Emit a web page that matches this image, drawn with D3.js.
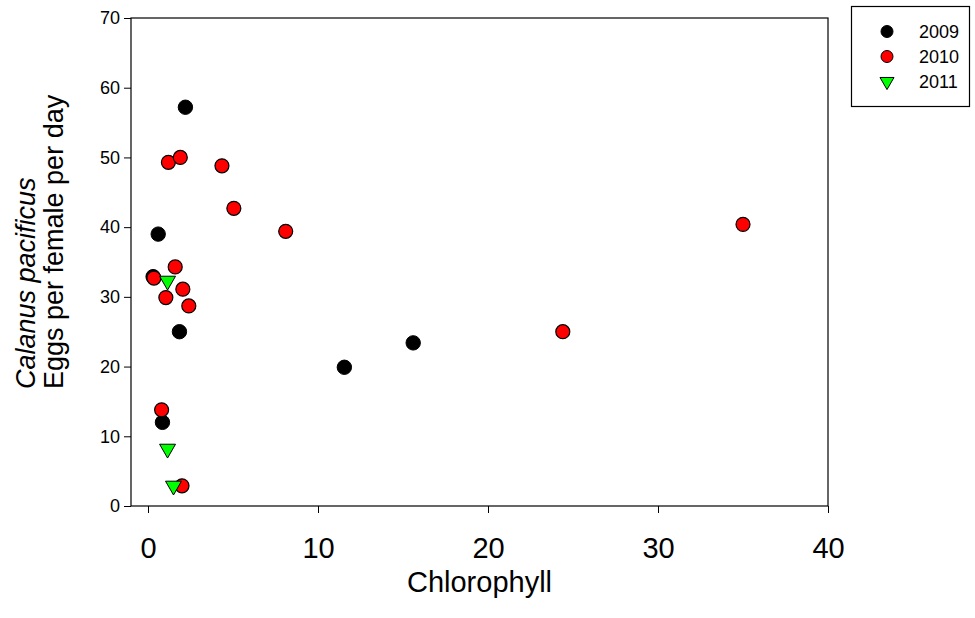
<!DOCTYPE html>
<html>
<head>
<meta charset="utf-8">
<script src="https://cdn.jsdelivr.net/npm/d3@7"></script>
<style>
  body { margin: 0; background: #fff; }
  svg { font-family: "Liberation Sans", Arial, sans-serif; }
</style>
</head>
<body>
<div id="chart"></div>
<script>
// chlorophyll (x) vs eggs per female per day (y), by year
const years = ["2009", "2010", "2011"];

const chl2009 = [2.2, 0.6, 0.3, 1.85, 0.85, 11.55, 15.6];
const egg2009 = [57.2, 39.0, 32.9, 25.0, 12.0, 19.9, 23.4];

const chl2010 = [1.2, 1.9, 4.35, 5.05, 8.1, 35.0, 24.4, 0.35, 1.6, 2.05, 1.05, 2.4, 0.8, 2.0];
const egg2010 = [49.3, 50.0, 48.8, 42.7, 39.4, 40.4, 25.0, 32.7, 34.3, 31.1, 29.9, 28.7, 13.8, 2.9];

const chl2011 = [1.15, 1.15, 1.5];
const egg2011 = [32.3, 8.2, 2.9];

const xTicks = [0, 10, 20, 30, 40];
const yTicks = [0, 10, 20, 30, 40, 50, 60, 70];

const width = 975, height = 618;
const margin = {top: 18, right: 147, bottom: 112, left: 131};

const svg = d3.select("#chart").append("svg")
    .attr("width", width)
    .attr("height", height);

const x = d3.scaleLinear().domain([-1, 40]).range([margin.left, width - margin.right]);
const y = d3.scaleLinear().domain([0, 70]).range([height - margin.bottom, margin.top]);

// axes
const xAxis = svg.append("g")
    .attr("transform", `translate(0,${y(0)})`)
    .call(d3.axisBottom(x).tickValues(xTicks).tickSize(7).tickSizeOuter(0).tickPadding(24));
xAxis.select(".domain").remove();
xAxis.selectAll("text").style("font-size", "29px").attr("font-family", null);

const yAxis = svg.append("g")
    .attr("transform", `translate(${x(-1)},0)`)
    .call(d3.axisLeft(y).tickValues(yTicks).tickSize(7).tickSizeOuter(0).tickPadding(4));
yAxis.select(".domain").remove();
yAxis.selectAll("text").style("font-size", "18px").attr("font-family", null);

// frame
svg.append("rect")
    .attr("x", x(-1)).attr("y", y(70))
    .attr("width", x(40) - x(-1)).attr("height", y(0) - y(70))
    .attr("fill", "none").attr("stroke", "#000").attr("stroke-width", 1.2);

// titles
svg.append("text")
    .attr("x", (x(-1) + x(40)) / 2)
    .attr("y", 592)
    .attr("text-anchor", "middle")
    .style("font-size", "29px")
    .text("Chlorophyll");

const yTitle = svg.append("g").attr("transform", "translate(0,389) rotate(-90)");
yTitle.append("text")
    .attr("x", 0).attr("y", 35)
    .style("font-size", "27px").style("font-style", "italic")
    .text("Calanus pacificus");
yTitle.append("text")
    .attr("x", 0).attr("y", 63)
    .style("font-size", "27px")
    .text("Eggs per female per day");

// points
const tri = d3.symbol().type(d3.symbolTriangle).size(110);

svg.append("g").selectAll("circle")
    .data(d3.zip(chl2009, egg2009))
    .join("circle")
    .attr("cx", d => x(d[0])).attr("cy", d => y(d[1]))
    .attr("r", 7.2)
    .attr("fill", "#000").attr("stroke", "#000");

svg.append("g").selectAll("circle")
    .data(d3.zip(chl2010, egg2010))
    .join("circle")
    .attr("cx", d => x(d[0])).attr("cy", d => y(d[1]))
    .attr("r", 7)
    .attr("fill", "#ff0000").attr("stroke", "#000").attr("stroke-width", 1.2);

svg.append("g").selectAll("path")
    .data(d3.zip(chl2011, egg2011))
    .join("path")
    .attr("transform", d => `translate(${x(d[0])},${y(d[1])}) rotate(180)`)
    .attr("d", tri)
    .attr("fill", "#00ff00").attr("stroke", "#000").attr("stroke-width", 1);

// legend
const legend = svg.append("g");
legend.append("rect")
    .attr("x", 851.5).attr("y", 6.5).attr("width", 118).attr("height", 100)
    .attr("fill", "#fff").attr("stroke", "#000").attr("stroke-width", 1.2);

const legendY = d3.scalePoint().domain(years).range([31.5, 81.5]);
const legendFill = d3.scaleOrdinal().domain(years).range(["#000", "#ff0000", "#00ff00"]);

years.forEach(yr => {
    const cy = legendY(yr);
    if (yr === "2011") {
        legend.append("path")
            .attr("transform", `translate(887,${cy}) rotate(180)`)
            .attr("d", d3.symbol().type(d3.symbolTriangle).size(85))
            .attr("fill", legendFill(yr)).attr("stroke", "#000");
    } else {
        legend.append("circle")
            .attr("cx", 887).attr("cy", cy).attr("r", 6)
            .attr("fill", legendFill(yr)).attr("stroke", "#000");
    }
    legend.append("text")
        .attr("x", 919).attr("y", cy)
        .attr("dy", "0.35em")
        .style("font-size", "18px")
        .text(yr);
});
</script>
</body>
</html>
